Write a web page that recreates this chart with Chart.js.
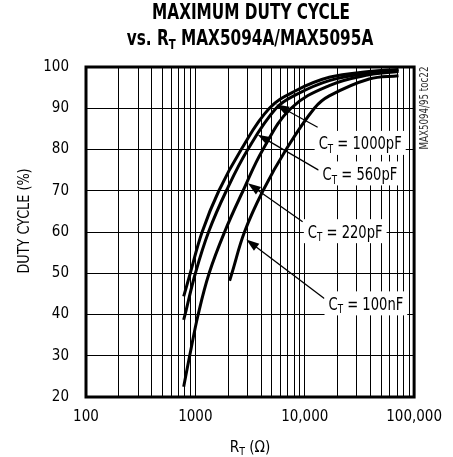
<!DOCTYPE html>
<html>
<head>
<meta charset="utf-8">
<script src="https://cdn.jsdelivr.net/npm/chart.js@4.4.1/dist/chart.umd.min.js"></script>
<style>
  html, body { margin: 0; padding: 0; background: #fff; }
  #wrap { width: 453px; height: 457px; }
</style>
</head>
<body>
<div id="wrap"><canvas id="dutyChart" width="453" height="457"></canvas></div>
<script>
const FONT = "'Liberation Sans Narrow', 'DejaVu Sans Condensed', sans-serif";

// x axis (R_T, ohms) - log scale, labelled decades
const xLabelValues = [100, 1000, 10000, 100000];
const xLabelText = ["100", "1000", "10,000", "100,000"];

// duty cycle curves
const r1000 = [782, 898, 1153, 1640, 2625, 4750, 8340, 16760, 38800, 72000];
const d1000 = [44.4, 50, 60, 70, 80, 90, 94.3, 97.5, 98.9, 99.4];

const r560 = [782, 805, 1000, 1320, 1920, 3015, 5470, 8340, 16760, 38800, 72000];
const d560 = [38.7, 40, 50, 60, 70, 80, 90, 93.3, 96.7, 98.5, 99.2];

const r220 = [782, 887, 1061, 1336, 1850, 2730, 4150, 7500, 16760, 38800, 72000];
const d220 = [22.5, 30, 40, 50, 60, 70, 80, 90, 95.5, 98.1, 98.9];

const r100n = [2055, 2158, 2812, 4150, 6755, 12250, 16760, 38800, 72000];
const d100n = [48.2, 50, 60, 70, 80, 90, 93, 97.1, 97.9];

// callouts: label centre, arrow tip, arrow tail (all in data units)
const callouts = [
  { value: "1000pF", lx: 32140, ly: 81.6, tipX: 5470, tipY: 90.9, tailX: 13120, tailY: 85.4 },
  { value: "560pF", lx: 31990, ly: 74.2, tipX: 3720, tipY: 83.6, tailX: 13390, tailY: 75.0 },
  { value: "220pF", lx: 23450, ly: 60.2, tipX: 3020, tipY: 71.8, tailX: 9570, tailY: 62.5 },
  { value: "100nF", lx: 36230, ly: 42.7, tipX: 2920, tipY: 58.2, tailX: 15100, tailY: 43.9 },
];

// grid lines at 1..9 of every decade
const xGridValues = [];
for (let d = 100; d < 100000; d *= 10) {
  for (let m = 1; m <= 9; m++) xGridValues.push(d * m);
}
xGridValues.push(100000);

const toPoints = (xs, ys) => xs.map((x, i) => ({ x: x, y: ys[i] }));

const curve = (pts) => ({
  data: pts,
  showLine: true,
  borderColor: "#000",
  borderWidth: 3,
  pointRadius: 0,
  tension: 0.4,
  fill: false,
});

// text with subscript pieces, squeezed horizontally by sx (no narrow font installed)
function drawRich(ctx, parts, x, y, size, subSize, weight, sx) {
  const widths = parts.map((p) => {
    ctx.font = `${weight} ${p[1] ? subSize : size}px ${FONT}`;
    return ctx.measureText(p[0]).width;
  });
  const total = widths.reduce((a, b) => a + b, 0);
  ctx.save();
  ctx.translate(x, y);
  ctx.scale(sx, 1);
  ctx.textAlign = "left";
  ctx.textBaseline = "alphabetic";
  let cx = -total / 2;
  parts.forEach((p, i) => {
    ctx.font = `${weight} ${p[1] ? subSize : size}px ${FONT}`;
    ctx.fillText(p[0], cx, p[1] ? size * 0.2 : 0);
    cx += widths[i];
  });
  ctx.restore();
  return total * sx;
}

function arrow(ctx, x1, y1, x2, y2) {
  // from tail (x1,y1) to tip (x2,y2)
  const ang = Math.atan2(y2 - y1, x2 - x1);
  const len = 13, half = 4.5;
  ctx.beginPath();
  ctx.moveTo(x1, y1);
  ctx.lineTo(x2 - Math.cos(ang) * len * 0.8, y2 - Math.sin(ang) * len * 0.8);
  ctx.lineWidth = 1.3;
  ctx.strokeStyle = "#000";
  ctx.stroke();
  ctx.beginPath();
  ctx.moveTo(x2, y2);
  ctx.lineTo(x2 - Math.cos(ang) * len - Math.sin(ang) * half, y2 - Math.sin(ang) * len + Math.cos(ang) * half);
  ctx.lineTo(x2 - Math.cos(ang) * len + Math.sin(ang) * half, y2 - Math.sin(ang) * len - Math.cos(ang) * half);
  ctx.closePath();
  ctx.fillStyle = "#000";
  ctx.fill();
}

const decorPlugin = {
  id: "decorPlugin",
  afterDraw(chart) {
    const ctx = chart.ctx;
    const xs = chart.scales.x, ys = chart.scales.y;
    const a = chart.chartArea;
    ctx.save();

    // callout labels + arrows
    callouts.forEach((c) => {
      const lx = xs.getPixelForValue(c.lx), ly = ys.getPixelForValue(c.ly);
      const parts = [["C"], ["T", true], [" = " + c.value]];
      let w = 0;
      parts.forEach((p) => {
        ctx.font = `${p[1] ? 12 : 18}px ${FONT}`;
        w += ctx.measureText(p[0]).width;
      });
      w *= 0.81;
      arrow(ctx, xs.getPixelForValue(c.tailX), ys.getPixelForValue(c.tailY),
        xs.getPixelForValue(c.tipX), ys.getPixelForValue(c.tipY));
      ctx.fillStyle = "#fff";
      ctx.fillRect(lx - w / 2 - 4, ly - 12, w + 8, 24);
      ctx.fillStyle = "#000";
      drawRich(ctx, parts, lx, ly + 6.5, 18, 12, "normal", 0.81);
    });

    // plot frame
    ctx.lineWidth = 3;
    ctx.strokeStyle = "#000";
    ctx.strokeRect(a.left, a.top, a.right - a.left, a.bottom - a.top);

    // title
    ctx.fillStyle = "#000";
    drawRich(ctx, [["MAXIMUM DUTY CYCLE"]], 251, 18.5, 21, 14, "bold", 0.81);
    drawRich(ctx, [["vs. R"], ["T", true], [" MAX5094A/MAX5095A"]], 250, 44.5, 21, 14, "bold", 0.81);

    // axis titles
    drawRich(ctx, [["R"], ["T", true], [" ("], ["\u03A9"], [")"]], 250, 452, 16, 11, "normal", 0.95);
    ctx.save();
    ctx.translate(29, 221);
    ctx.rotate(-Math.PI / 2);
    drawRich(ctx, [["DUTY CYCLE (%)"]], 0, 0, 16, 11, "normal", 0.89);
    ctx.restore();

    // figure id at the right
    ctx.save();
    ctx.translate(428, 108);
    ctx.rotate(-Math.PI / 2);
    ctx.fillStyle = "#333";
    drawRich(ctx, [["MAX5094/95 toc22"]], 0, 0, 11.5, 8, "normal", 0.84);
    ctx.restore();

    ctx.restore();
  },
};

const ctx = document.getElementById("dutyChart").getContext("2d");
new Chart(ctx, {
  type: "scatter",
  data: {
    datasets: [
      curve(toPoints(r1000, d1000)),
      curve(toPoints(r560, d560)),
      curve(toPoints(r220, d220)),
      curve(toPoints(r100n, d100n)),
    ],
  },
  options: {
    responsive: false,
    devicePixelRatio: 1,
    animation: false,
    layout: { padding: { top: 67, right: 38, left: 0, bottom: 0 } },
    plugins: {
      legend: { display: false },
      tooltip: { enabled: false },
      title: { display: false },
    },
    scales: {
      x: {
        type: "logarithmic",
        min: 100,
        max: 100000,
        afterBuildTicks: (s) => {
          s.ticks = xGridValues.map((v) => ({ value: v }));
        },
        afterFit: (s) => {
          s.height = 60;
        },
        ticks: {
          autoSkip: false,
          maxRotation: 0,
          padding: 11,
          color: "#000",
          font: { family: FONT, size: 15 },
          callback: (v) => {
            const i = xLabelValues.indexOf(v);
            return i >= 0 ? xLabelText[i] : "";
          },
        },
        grid: { color: "#000", lineWidth: 1, drawTicks: false },
        border: { display: false },
      },
      y: {
        min: 20,
        max: 100,
        afterFit: (s) => {
          s.width = 86;
        },
        ticks: {
          stepSize: 10,
          padding: 17,
          color: "#000",
          font: { family: FONT, size: 15 },
        },
        grid: { color: "#000", lineWidth: 1, drawTicks: false },
        border: { display: false },
      },
    },
  },
  plugins: [decorPlugin],
});
</script>
</body>
</html>
